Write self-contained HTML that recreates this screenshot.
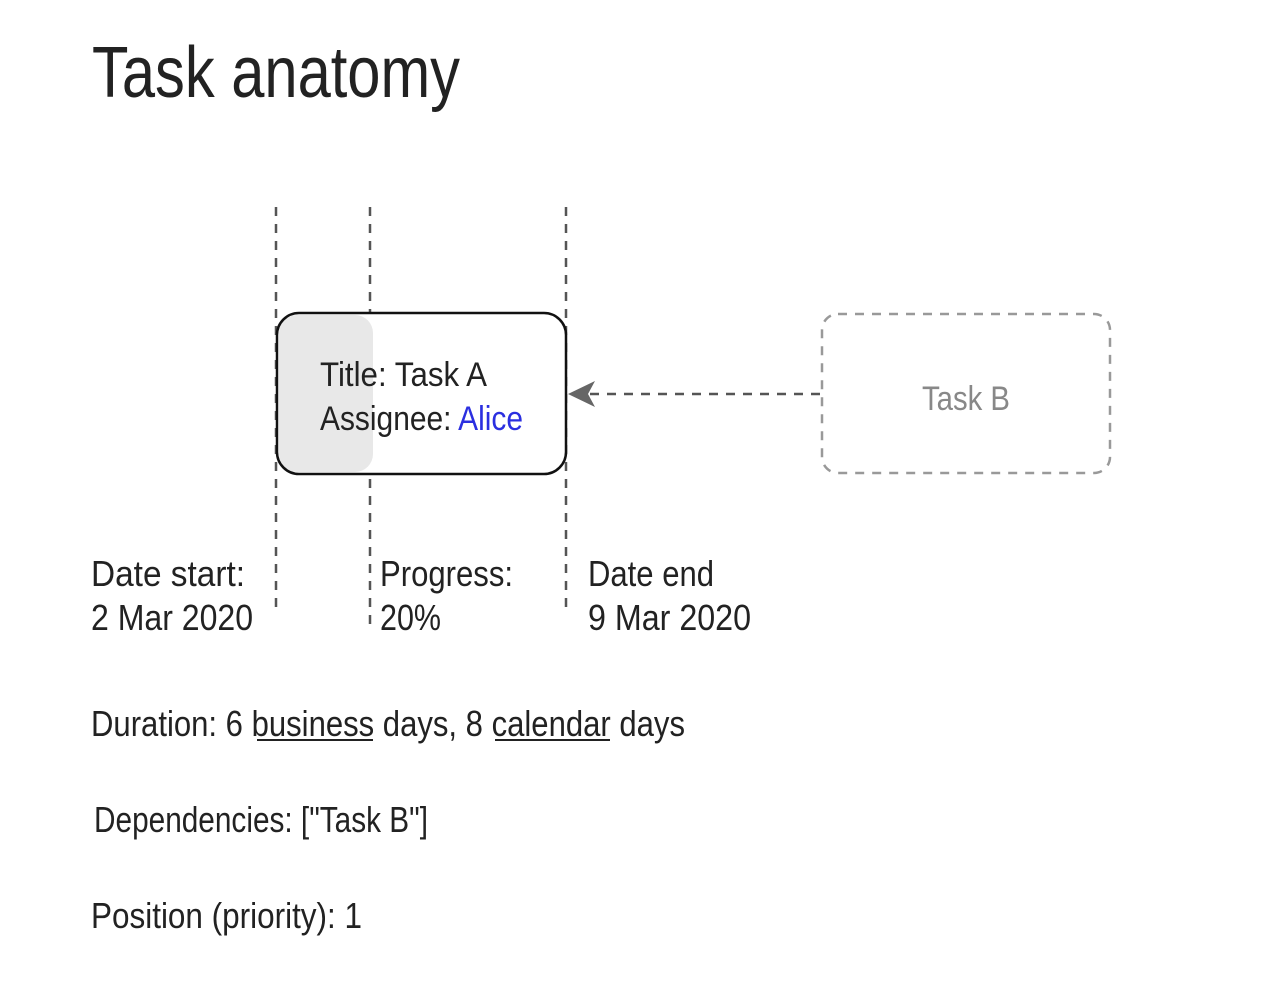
<!DOCTYPE html>
<html><head><meta charset="utf-8"><style>
html,body{margin:0;padding:0;background:#fff;}
svg{display:block;}
text{font-family:"Liberation Sans",sans-serif;fill:#222;}
</style></head><body>
<svg width="1280" height="993" viewBox="0 0 1280 993" xmlns="http://www.w3.org/2000/svg">
<rect width="1280" height="993" fill="#fff"/>
<text x="92" y="97" font-size="72" textLength="368" lengthAdjust="spacingAndGlyphs">Task anatomy</text>

<g stroke="#555" stroke-width="2.5" stroke-dasharray="9 8">
<line x1="276" y1="207" x2="276" y2="614"/>
<line x1="370" y1="207" x2="370" y2="632"/>
<line x1="566" y1="207" x2="566" y2="614"/>
</g>
<rect x="277" y="313" width="289" height="161" rx="22" fill="#fff"/>
<rect x="279" y="315" width="94" height="157" rx="18" fill="#e8e8e8"/>
<rect x="277" y="313" width="289" height="161" rx="22" fill="none" stroke="#111" stroke-width="2.5"/>
<text x="320" y="386" font-size="34" textLength="167" lengthAdjust="spacingAndGlyphs">Title: Task A</text>
<text x="320" y="430" font-size="34" textLength="203" lengthAdjust="spacingAndGlyphs">Assignee: <tspan fill="#2b2fe0" style="fill:#2b2fe0">Alice</tspan></text>

<rect x="822" y="314" width="288" height="159" rx="16" fill="none" stroke="#999" stroke-width="2.5" stroke-dasharray="9 8"/>
<text x="922" y="410" font-size="34" style="fill:#888" textLength="88" lengthAdjust="spacingAndGlyphs">Task B</text>

<line x1="820" y1="394" x2="585" y2="394" stroke="#555" stroke-width="2.5" stroke-dasharray="9 8"/>
<path d="M568 394 L595 381 L588 394 L595 407 Z" fill="#666"/>

<text x="91" y="586" font-size="36" textLength="154" lengthAdjust="spacingAndGlyphs">Date start:</text>
<text x="91" y="630" font-size="36" textLength="162" lengthAdjust="spacingAndGlyphs">2 Mar 2020</text>
<text x="380" y="586" font-size="36" textLength="133" lengthAdjust="spacingAndGlyphs">Progress:</text>
<text x="380" y="630" font-size="36" textLength="61" lengthAdjust="spacingAndGlyphs">20%</text>
<text x="588" y="586" font-size="36" textLength="126" lengthAdjust="spacingAndGlyphs">Date end</text>
<text x="588" y="630" font-size="36" textLength="163" lengthAdjust="spacingAndGlyphs">9 Mar 2020</text>

<text x="91" y="736" font-size="36" textLength="594" lengthAdjust="spacingAndGlyphs">Duration: 6 business days, 8 calendar days</text>
<line x1="257" y1="740" x2="373" y2="740" stroke="#222" stroke-width="2"/>
<line x1="495" y1="740" x2="610" y2="740" stroke="#222" stroke-width="2"/>

<text x="94" y="832" font-size="36" textLength="334" lengthAdjust="spacingAndGlyphs">Dependencies: ["Task B"]</text>
<text x="91" y="928" font-size="36" textLength="271" lengthAdjust="spacingAndGlyphs">Position (priority): 1</text>
</svg>
</body></html>
